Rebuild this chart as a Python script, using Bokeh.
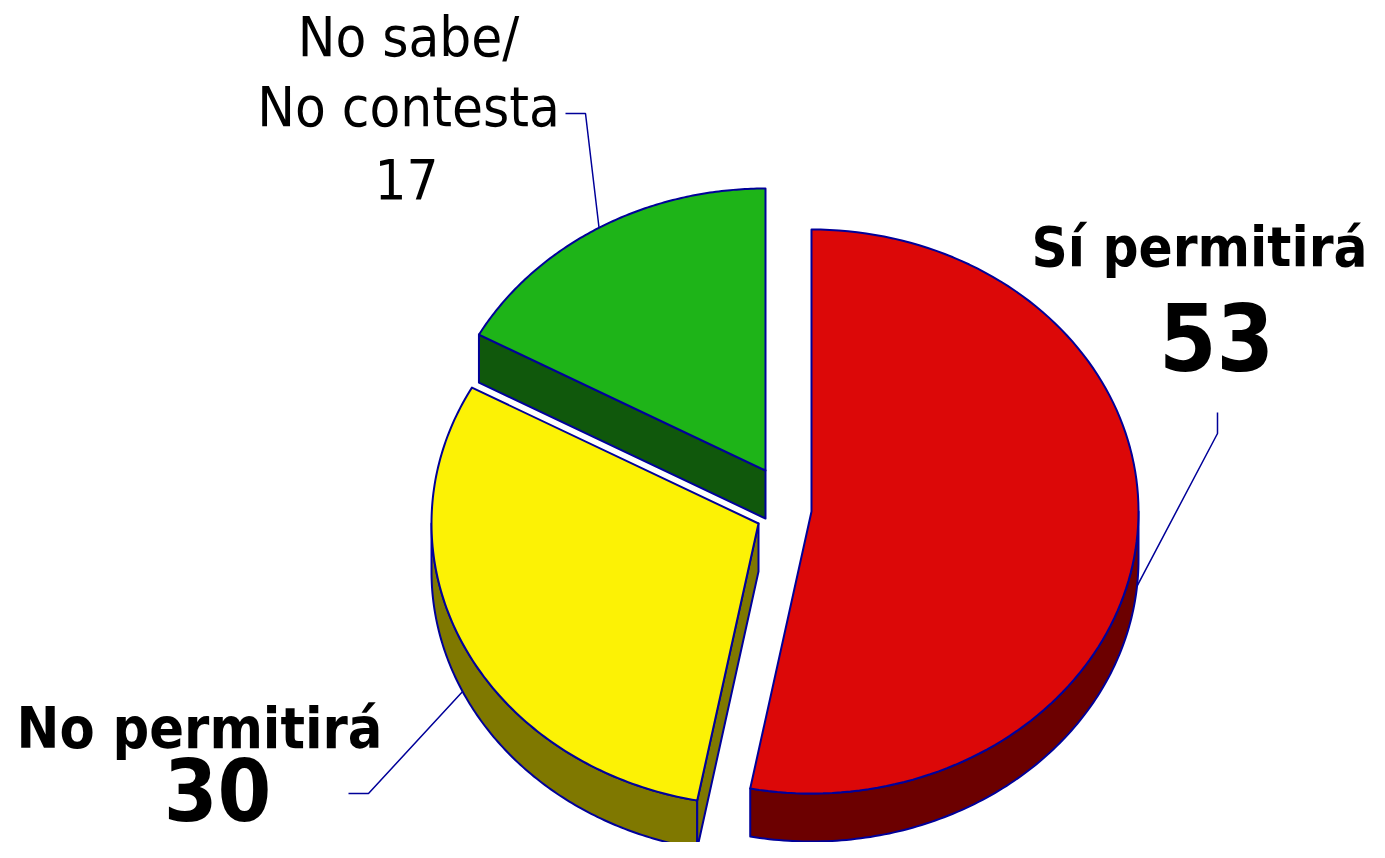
import numpy as np
from bokeh.plotting import figure
from bokeh.models import Range1d
from bokeh.core.properties import value
from bokeh.embed import file_html
from bokeh.resources import INLINE

# ---------------- data ----------------
categories = ["Sí permitirá", "No permitirá", "No sabe/No contesta"]
values = [53, 30, 17]
label_lines = [["Sí permitirá"], ["No permitirá"], ["No sabe/", "No contesta"]]
top_colors = ["#DC0808", "#FCF205", "#1EB418"]
side_colors = ["#6C0000", "#7F7800", "#10580C"]

# ---------------- layout ----------------
W, H = 1369, 842
RX, RY, DEPTH = 327, 282, 48
EDGE = "#000099"
FONT = "DejaVu Sans Condensed, DejaVu Sans"
BASE_SHIFT = 0.39      # renderer places alphabetic baseline ~0.39em low; compensate
centers = [(811, 511), (758, 523), (765, 470)]          # exploded slice apexes
label_layout = [
    dict(x=1199, ys=[268], size=56, bold=True, vx=1216, vy=372, vsize=92,
         elbow=[(1217, 433), (1217, 412)]),
    dict(x=199, ys=[750], size=57, bold=True, vx=217, vy=823, vsize=86,
         elbow=[(368, 793), (348, 793)]),
    dict(x=408, ys=[58, 128], size=56, bold=False, vx=406, vy=200, vsize=56,
         elbow=[(585, 113), (565, 113)]),
]

p = figure(width=W, height=H, output_backend="svg", toolbar_location=None,
           x_range=Range1d(0, W), y_range=Range1d(H, 0),
           min_border=0)
p.axis.visible = False
p.grid.visible = False
p.outline_line_color = None
p.background_fill_color = "white"
p.border_fill_color = "white"

total = float(sum(values))
bounds = np.concatenate([[0.0], np.cumsum(values)]) / total * 2 * np.pi


def pt(c, th, dz=0.0):
    return c[0] + RX * np.sin(th), c[1] - RY * np.cos(th) + dz


def arc(c, a, b, dz=0.0, n=120):
    th = np.linspace(a, b, n)
    x, y = pt(c, th, dz)
    return list(x), list(y)


for i in [2, 1, 0]:
    c = centers[i]
    a, b = bounds[i], bounds[i + 1]
    xs, ys, fills = [], [], []
    # outer wall (visible part: lower half of ellipse)
    lo, hi = max(a, np.pi / 2), min(b, 1.5 * np.pi)
    if lo < hi:
        x1, y1 = arc(c, lo, hi)
        x2, y2 = arc(c, lo, hi, DEPTH)
        xs.append(x1 + x2[::-1]); ys.append(y1 + y2[::-1]); fills.append(side_colors[i])
    # radial faces
    for th, vis in [(a, np.sin(a) < -1e-6), (b, np.sin(b) > 1e-6)]:
        if vis:
            px, py = pt(c, th)
            xs.append([c[0], px, px, c[0]])
            ys.append([c[1], py, py + DEPTH, c[1] + DEPTH])
            fills.append(side_colors[i])
    # top face
    ax, ay = arc(c, a, b)
    xs.append([c[0]] + ax); ys.append([c[1]] + ay); fills.append(top_colors[i])
    p.patches(xs, ys, fill_color=fills, line_color=EDGE, line_width=2,
              line_join="round")


def label(x, yb, txt, size, style):
    p.text(x=[x], y=[yb - BASE_SHIFT * size], text=[txt], text_align="center",
           text_baseline="alphabetic", text_font=value(FONT),
           text_font_size=f"{size}px", text_font_style=style, text_color="black")


# leader lines and labels
for i in range(len(values)):
    c = centers[i]
    mid = (bounds[i] + bounds[i + 1]) / 2
    dz = DEPTH if np.pi / 2 <= mid <= 1.5 * np.pi else 0
    ax0, ay0 = pt(c, mid, dz)
    L = label_layout[i]
    lx = [ax0] + [e[0] for e in L["elbow"]]
    ly = [ay0] + [e[1] for e in L["elbow"]]
    p.line(lx, ly, line_color=EDGE, line_width=1.5)
    style = "bold" if L["bold"] else "normal"
    for line, yb in zip(label_lines[i], L["ys"]):
        label(L["x"], yb, line, L["size"], style)
    label(L["vx"], L["vy"], str(values[i]), L["vsize"], style)

open("out.html", "w").write(file_html(p, INLINE))
